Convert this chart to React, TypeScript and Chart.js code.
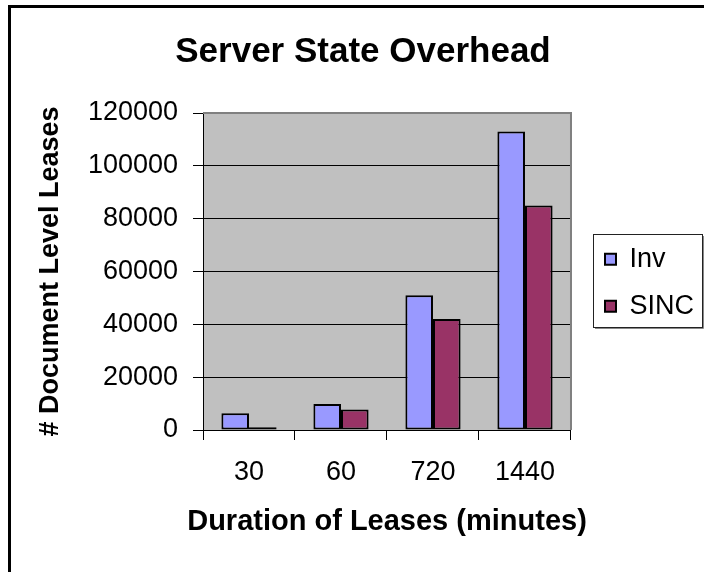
import React, { useEffect, useRef } from 'react';
import { Chart, registerables } from 'chart.js';

Chart.register(...registerables);

const categories = ['30', '60', '720', '1440'];
const seriesNames = ['Inv', 'SINC'];
const invValues = [6300, 9800, 51000, 113000];
const sincValues = [1000, 7800, 42000, 85000];
const seriesColors = ['#9999FF', '#993366'];
const yMin = 0;
const yMax = 120000;
const yStep = 20000;
const titleText = 'Server State Overhead';
const xTitleText = 'Duration of Leases (minutes)';
const yTitleText = '# Document Level Leases';

const FONT = "'Liberation Sans', Arial, Helvetica, sans-serif";

const framePlugin = {
  id: 'frame',
  beforeDraw(chart: any) {
    const { ctx, chartArea: a } = chart;
    ctx.save();
    ctx.fillStyle = '#ffffff';
    ctx.fillRect(0, 0, chart.width, chart.height);
    ctx.fillStyle = '#C0C0C0';
    ctx.fillRect(a.left, a.top, a.right - a.left, a.bottom - a.top);
    ctx.restore();
  },
  beforeDatasetsDraw(chart: any) {
    const { ctx, chartArea: a } = chart;
    ctx.save();
    ctx.strokeStyle = '#808080';
    ctx.lineWidth = 2;
    ctx.beginPath();
    ctx.moveTo(a.left, a.top);
    ctx.lineTo(a.right, a.top);
    ctx.lineTo(a.right, a.bottom);
    ctx.stroke();
    ctx.restore();
  },
  afterDraw(chart: any) {
    const ctx = chart.ctx;
    const a = chart.chartArea;
    ctx.save();
    // axis titles (drawn here so they are not squeezed to the scale length)
    ctx.fillStyle = '#000';
    ctx.textAlign = 'center';
    ctx.textBaseline = 'middle';
    ctx.font = `bold 29px ${FONT}`;
    ctx.fillText(xTitleText, (a.left + a.right) / 2, chart.scales.x.bottom + 18);
    ctx.save();
    ctx.translate(chart.scales.y.left + 29, (a.top + a.bottom) / 2);
    ctx.rotate(-Math.PI / 2);
    ctx.font = `bold 27px ${FONT}`;
    ctx.fillText(yTitleText, 0, 0);
    ctx.restore();
    // outer frame
    ctx.strokeStyle = '#000';
    ctx.lineWidth = 3;
    ctx.beginPath();
    ctx.moveTo(9.5, chart.height + 5);
    ctx.lineTo(9.5, 6.5);
    ctx.lineTo(chart.width + 5, 6.5);
    ctx.stroke();
    // legend frame
    const lg = chart.legend;
    const hb = lg && lg.legendHitBoxes;
    if (hb && hb.length) {
      const first = hb[0];
      const last = hb[hb.length - 1];
      const x0 = Math.round(first.left - 12);
      const y0 = Math.round(first.top - 12);
      const x1 = Math.min(Math.round(lg.right - 1), chart.width - 1);
      const y1 = Math.round(last.top + last.height + 7);
      ctx.strokeStyle = '#222';
      ctx.lineWidth = 1;
      ctx.strokeRect(x0 + 0.5, y0 + 0.5, x1 - x0 - 1, y1 - y0);
      ctx.strokeStyle = '#888';
      ctx.beginPath();
      ctx.moveTo(x1 + 0.5, y0 + 2);
      ctx.lineTo(x1 + 0.5, y1 + 1.5);
      ctx.lineTo(x0 + 2, y1 + 1.5);
      ctx.stroke();
    }
    ctx.restore();
  },
};

export default function App() {
  const ref = useRef<HTMLCanvasElement>(null);
  useEffect(() => {
    Chart.defaults.font.family = FONT;
    const chart = new Chart(ref.current as HTMLCanvasElement, {
      type: 'bar',
      data: {
        labels: categories,
        datasets: [
          {
            label: seriesNames[0],
            data: invValues,
            backgroundColor: seriesColors[0],
            borderColor: '#000',
            borderWidth: 2,
            borderSkipped: false,
            categoryPercentage: 0.6,
            barPercentage: 1,
          },
          {
            label: seriesNames[1],
            data: sincValues,
            backgroundColor: seriesColors[1],
            borderColor: '#000',
            borderWidth: 2,
            borderSkipped: false,
            categoryPercentage: 0.6,
            barPercentage: 1,
          },
        ],
      },
      options: {
        responsive: false,
        animation: false,
        devicePixelRatio: 1,
        layout: { padding: { left: 22, right: 0, top: 5, bottom: 67.6 } },
        plugins: {
          title: {
            display: true,
            text: titleText,
            color: '#000',
            font: { family: FONT, size: 35, weight: 'bold' },
            padding: { top: 26, bottom: 40 },
          },
          legend: {
            position: 'right',
            align: 'center',
            maxWidth: 300,
            title: { display: true, text: '', font: { size: 10 }, padding: { top: 22, bottom: 22 } },
            labels: {
              boxWidth: 11,
              boxHeight: 11,
              padding: 20,
              color: '#000',
              font: { family: FONT, size: 27 },
            },
          },
          tooltip: { enabled: false },
        },
        scales: {
          x: {
            grid: { display: true, drawOnChartArea: false, drawTicks: true, tickLength: 10, color: '#000', offset: true },
            border: { color: '#000', width: 1 },
            ticks: { color: '#000', font: { family: FONT, size: 27 }, padding: 16, maxRotation: 0 },
            title: { display: false },
          },
          y: {
            min: yMin,
            max: yMax,
            grid: { color: '#000', tickLength: 10 },
            border: { color: '#000', width: 1 },
            ticks: {
              stepSize: yStep,
              color: '#000',
              font: { family: FONT, size: 27 },
              padding: 15,
              callback: (v: any) => String(v),
            },
            title: { display: false },
            afterFit: (s: any) => {
              s.width = 181;
            },
          },
          yR: {
            type: 'linear',
            position: 'right',
            display: true,
            grid: { display: false },
            border: { display: false },
            ticks: { display: false },
            afterFit: (s: any) => {
              s.width = 14;
            },
          },
        },
      } as any,
      plugins: [framePlugin],
    });
    return () => chart.destroy();
  }, []);
  return (
    <div style={{ position: 'absolute', left: 0, top: 0, width: 704, height: 572 }}>
      <canvas ref={ref} width={704} height={572} style={{ display: 'block' }} />
    </div>
  );
}
